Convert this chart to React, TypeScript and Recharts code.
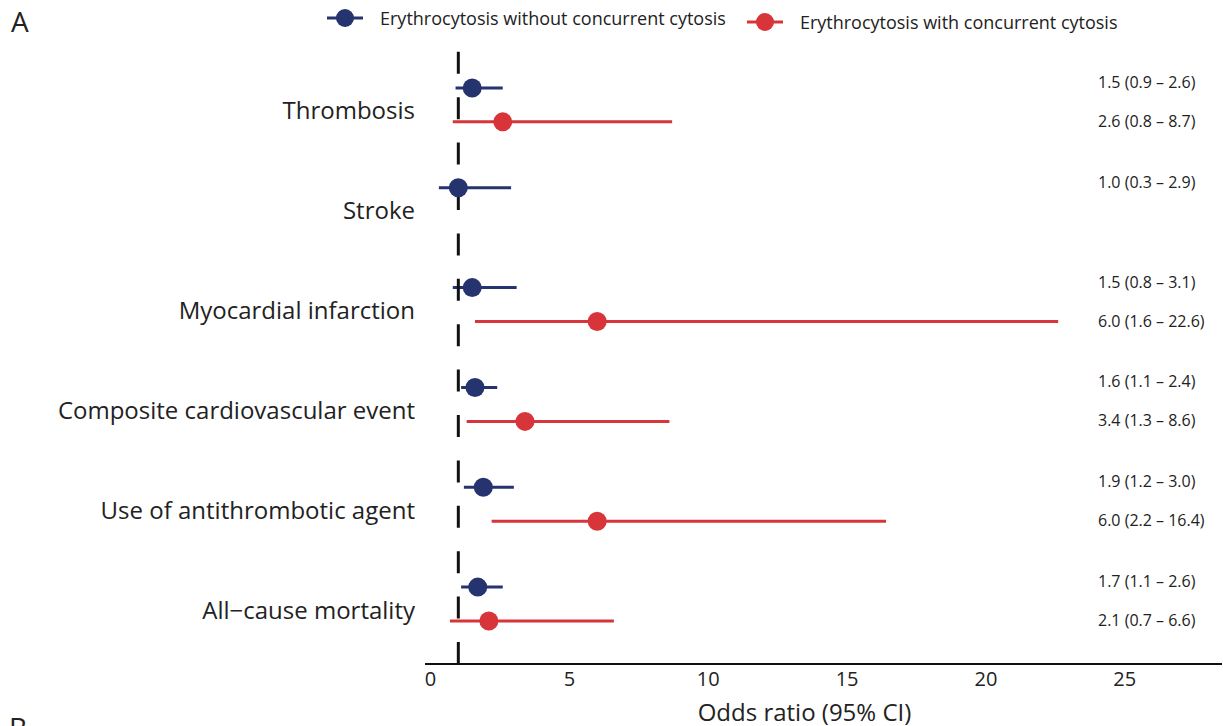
import React from "react";
import {
  ScatterChart,
  Scatter,
  XAxis,
  YAxis,
  ErrorBar,
  ReferenceLine,
} from "recharts";

// Forest plot: odds ratio with 95% CI per outcome, two groups per outcome.

const CATEGORIES = [
  "Thrombosis",
  "Stroke",
  "Myocardial infarction",
  "Composite cardiovascular event",
  "Use of antithrombotic agent",
  "All\u2212cause mortality",
];

const BLUE_OR = [1.5, 1.0, 1.5, 1.6, 1.9, 1.7];
const BLUE_LO = [0.9, 0.3, 0.8, 1.1, 1.2, 1.1];
const BLUE_HI = [2.6, 2.9, 3.1, 2.4, 3.0, 2.6];

const RED_OR = [2.6, null, 6.0, 3.4, 6.0, 2.1];
const RED_LO = [0.8, null, 1.6, 1.3, 2.2, 0.7];
const RED_HI = [8.7, null, 22.6, 8.6, 16.4, 6.6];

const X_TICKS = [0, 5, 10, 15, 20, 25];
const ROW_TICKS = [0, 1, 2, 3, 4, 5];

const BLUE = "#25336f";
const RED = "#d7353a";
const FONT = "'Open Sans', 'Noto Sans', sans-serif";
const LABEL_X = 1098;

const fmt = (v: number) => v.toFixed(1);

function buildRows(or: (number | null)[], lo: (number | null)[], hi: (number | null)[], shift: number) {
  const out: any[] = [];
  or.forEach((v, i) => {
    if (v == null) return;
    const l = lo[i] as number;
    const h = hi[i] as number;
    out.push({
      or: v,
      row: i + shift,
      err: [v - l, h - v],
      text: `${fmt(v)} (${fmt(l)} \u2013 ${fmt(h)})`,
    });
  });
  return out;
}

const blueData = buildRows(BLUE_OR, BLUE_LO, BLUE_HI, -0.17);
const redData = buildRows(RED_OR, RED_LO, RED_HI, 0.17);

function makeShape(color: string, dy: number) {
  return (props: any) => (
    <g>
      <circle cx={props.cx} cy={props.cy} r={9.5} fill={color} />
      <text
        x={LABEL_X}
        y={props.cy + dy}
        dominantBaseline="central"
        fontSize={16}
        fontFamily={FONT}
        fill="#222"
      >
        {props.payload.text}
      </text>
    </g>
  );
}

function LegendItem({ color, label, offset }: { color: string; label: string; offset: number }) {
  return (
    <span style={{ display: "inline-flex", alignItems: "center", marginTop: offset }}>
      <svg width={38} height={20} style={{ marginRight: 16 }}>
        <line x1={1} y1={10} x2={37} y2={10} stroke={color} strokeWidth={3} />
        <circle cx={19} cy={10} r={9} fill={color} />
      </svg>
      <span style={{ fontSize: 18, color: "#222", fontFamily: FONT, lineHeight: "20px" }}>{label}</span>
    </span>
  );
}

export default function App() {
  return (
    <div style={{ position: "relative", width: 1223, height: 726, background: "#fff", overflow: "hidden" }}>
      <style>{`body{margin:0}`}</style>
      <div style={{ position: "absolute", left: 11, top: 2, fontSize: 28, fontFamily: FONT, color: "#222" }}>A</div>
      <div style={{ position: "absolute", left: 9, top: 708, fontSize: 28, fontFamily: FONT, color: "#222" }}>B</div>
      <div style={{ position: "absolute", left: 326, top: 8, display: "flex", alignItems: "flex-start", gap: 20 }}>
        <LegendItem color={BLUE} label="Erythrocytosis without concurrent cytosis" offset={0} />
        <LegendItem color={RED} label="Erythrocytosis with concurrent cytosis" offset={4} />
      </div>
      <ScatterChart width={1223} height={726} margin={{ top: 35, right: 1, bottom: 0, left: 0 }}>
        <XAxis
          type="number"
          dataKey="or"
          domain={[-0.2, 28.5]}
          ticks={X_TICKS}
          allowDataOverflow
          height={62}
          tickLine={false}
          axisLine={{ stroke: "#111", strokeWidth: 2 }}
          tick={{ fontSize: 20, fill: "#222", fontFamily: FONT }}
          label={{
            value: "Odds ratio (95% CI)",
            position: "insideBottom",
            dx: -19,
            offset: 5,
            fontSize: 24,
            fill: "#222",
            fontFamily: FONT,
          }}
        />
        <YAxis
          type="number"
          dataKey="row"
          domain={[-0.7, 5.6]}
          reversed
          ticks={ROW_TICKS}
          width={425}
          axisLine={false}
          tickLine={false}
          tickFormatter={(v: number) => CATEGORIES[v] ?? ""}
          tick={{ fontSize: 24, fill: "#222", fontFamily: FONT, dy: 6, dx: -2 }}
        />
        <Scatter data={blueData} shape={makeShape(BLUE, -6)} isAnimationActive={false}>
          <ErrorBar dataKey="err" direction="x" width={0} stroke={BLUE} strokeWidth={3} />
        </Scatter>
        <Scatter data={redData} shape={makeShape(RED, -1)} isAnimationActive={false}>
          <ErrorBar dataKey="err" direction="x" width={0} stroke={RED} strokeWidth={3} />
        </Scatter>
        <ReferenceLine x={1} stroke="#111" strokeWidth={3} strokeDasharray="22 23.4" />
      </ScatterChart>
    </div>
  );
}
